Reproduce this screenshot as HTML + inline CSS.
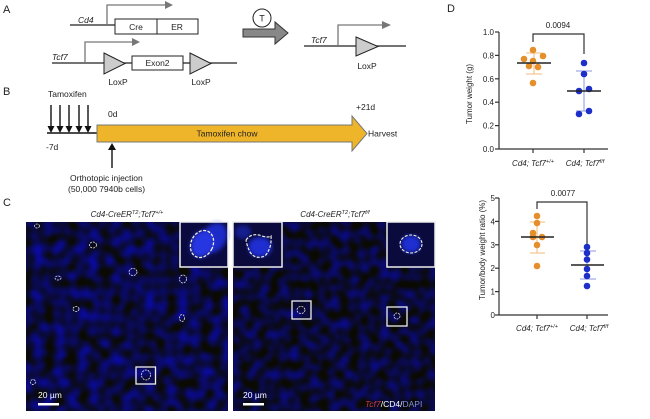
<!DOCTYPE html>
<html><head><meta charset="utf-8"><style>
html,body{margin:0;padding:0;background:#fff;}
svg{display:block;}
text{font-family:"Liberation Sans",Arial,sans-serif;fill:#222;}
.it{font-style:italic;}
</style></head><body>
<svg width="650" height="419" viewBox="0 0 650 419" xmlns="http://www.w3.org/2000/svg">
<defs>
<filter id="nL" filterUnits="userSpaceOnUse" x="26" y="222" width="202" height="189" color-interpolation-filters="sRGB">
<feTurbulence type="fractalNoise" baseFrequency="0.09" numOctaves="1" seed="3"/>
<feColorMatrix type="matrix" values="0 0 0 0 0.04  0 0 0 0 0.04  1.3 0 0 0 -0.38  0 0 0 0 1"/>
<feGaussianBlur stdDeviation="0.8"/>
</filter>
<filter id="nR" filterUnits="userSpaceOnUse" x="233" y="222" width="202" height="189" color-interpolation-filters="sRGB">
<feTurbulence type="fractalNoise" baseFrequency="0.1" numOctaves="1" seed="8"/>
<feColorMatrix type="matrix" values="0 0 0 0 0.04  0 0 0 0 0.04  1.1 0 0 0 -0.34  0 0 0 0 1"/>
<feGaussianBlur stdDeviation="0.8"/>
</filter>
<filter id="bl" color-interpolation-filters="sRGB"><feGaussianBlur stdDeviation="2"/></filter>
</defs>

<!-- Panel A -->
<text x="3" y="13" font-size="11">A</text>
<text x="78" y="23" font-size="8.5" class="it">Cd4</text>
<line x1="70" y1="25" x2="115" y2="25" stroke="#222" stroke-width="1.3"/>
<polyline points="107,25 107,5 166,5" fill="none" stroke="#777" stroke-width="1.3"/>
<polygon points="165,1 173,5 165,9" fill="#777"/>
<rect x="115" y="19" width="42" height="15" fill="#fff" stroke="#222" stroke-width="1"/>
<rect x="157" y="19" width="41" height="15" fill="#fff" stroke="#222" stroke-width="1"/>
<text x="136" y="30" font-size="8.5" text-anchor="middle">Cre</text>
<text x="177" y="30" font-size="8.5" text-anchor="middle">ER</text>

<text x="52" y="60" font-size="8.5" class="it">Tcf7</text>
<line x1="52" y1="63" x2="237" y2="63" stroke="#222" stroke-width="1.3"/>
<polyline points="85,63 85,42 133,42" fill="none" stroke="#777" stroke-width="1.3"/>
<polygon points="132,38 140,42 132,46" fill="#777"/>
<polygon points="104,53 125,63.5 104,74" fill="#ccc" stroke="#222" stroke-width="1"/>
<rect x="132" y="56" width="51" height="14" fill="#fff" stroke="#222" stroke-width="1"/>
<text x="157.5" y="66" font-size="8.5" text-anchor="middle">Exon2</text>
<polygon points="190,53 211,63.5 190,74" fill="#ccc" stroke="#222" stroke-width="1"/>
<text x="118" y="85" font-size="8.5" text-anchor="middle">LoxP</text>
<text x="201" y="85" font-size="8.5" text-anchor="middle">LoxP</text>

<polygon points="243,29 275,29 275,22 288,33 275,44 275,37 243,37" fill="#888" stroke="#333" stroke-width="1"/>
<circle cx="262" cy="18" r="9" fill="#fff" stroke="#222" stroke-width="1"/>
<text x="262" y="21.5" font-size="9" text-anchor="middle">T</text>

<text x="311" y="43" font-size="8.5" class="it">Tcf7</text>
<line x1="304" y1="46" x2="406" y2="46" stroke="#222" stroke-width="1.3"/>
<polyline points="338,46 338,25 383,25" fill="none" stroke="#777" stroke-width="1.3"/>
<polygon points="382,21 391,25 382,29" fill="#777"/>
<polygon points="356,37 378,46.5 356,56" fill="#ccc" stroke="#222" stroke-width="1"/>
<text x="367" y="69" font-size="8.5" text-anchor="middle">LoxP</text>

<!-- Panel B -->
<text x="3" y="95" font-size="11">B</text>
<text x="48" y="97" font-size="8.5">Tamoxifen</text>
<g stroke="#111" stroke-width="1.4">
<line x1="51" y1="105" x2="51" y2="127"/><line x1="60" y1="105" x2="60" y2="127"/>
<line x1="69" y1="105" x2="69" y2="127"/><line x1="79" y1="105" x2="79" y2="127"/>
<line x1="88" y1="105" x2="88" y2="127"/>
<line x1="47" y1="133" x2="98" y2="133" stroke-width="1.6"/>
</g>
<g fill="#111">
<polygon points="47.5,126 54.5,126 51,133"/><polygon points="56.5,126 63.5,126 60,133"/>
<polygon points="65.5,126 72.5,126 69,133"/><polygon points="75.5,126 82.5,126 79,133"/>
<polygon points="84.5,126 91.5,126 88,133"/>
</g>
<polygon points="97,125 352,125 352,116 367,133.5 352,151 352,142 97,142" fill="#eeb42a" stroke="#777" stroke-width="1"/>
<text x="227" y="136.5" font-size="8.5" text-anchor="middle">Tamoxifen chow</text>
<text x="108" y="117" font-size="8.5">0d</text>
<text x="46" y="150" font-size="8.5">-7d</text>
<text x="356" y="110" font-size="8.5">+21d</text>
<text x="368" y="136.5" font-size="8.5">Harvest</text>
<line x1="112" y1="149" x2="112" y2="168" stroke="#111" stroke-width="1.4"/>
<polygon points="108,150 116,150 112,143" fill="#111"/>
<text x="70" y="181" font-size="8.5">Orthotopic injection</text>
<text x="68" y="192" font-size="8.5">(50,000 7940b cells)</text>

<!-- Panel C -->
<text x="3" y="206" font-size="11">C</text>
<text x="127" y="217" font-size="8" text-anchor="middle" class="it">Cd4-CreER<tspan font-size="5.5" dy="-3">T2</tspan><tspan dy="3">;Tcf7</tspan><tspan font-size="5.5" dy="-3">+/+</tspan></text>
<text x="335" y="217" font-size="8" text-anchor="middle" class="it">Cd4-CreER<tspan font-size="5.5" dy="-3">T2</tspan><tspan dy="3">;Tcf7</tspan><tspan font-size="5.5" dy="-3">f/f</tspan></text>

<rect x="26" y="222" width="202" height="189" fill="#0a0a3a"/>
<rect x="26" y="222" width="202" height="189" filter="url(#nL)"/>
<rect x="233" y="222" width="202" height="189" fill="#0a0a3a"/>
<rect x="233" y="222" width="202" height="189" filter="url(#nR)"/>

<!-- cell outlines -->
<g fill="none" stroke="#e8e8d8" stroke-width="0.8" stroke-dasharray="2 1">
<ellipse cx="93" cy="245" rx="3.5" ry="3"/>
<ellipse cx="133" cy="272" rx="4" ry="3.5"/>
<ellipse cx="183" cy="279" rx="3.5" ry="4"/>
<ellipse cx="182" cy="318" rx="2.5" ry="3.5"/>
<ellipse cx="76" cy="309" rx="3" ry="2.5"/>
<ellipse cx="58" cy="278" rx="3" ry="2"/>
<ellipse cx="33" cy="382" rx="2.5" ry="2.5"/>
<ellipse cx="37" cy="226" rx="2.5" ry="2"/>
<ellipse cx="146" cy="375" rx="4.5" ry="5"/>
<ellipse cx="301" cy="310" rx="4" ry="3.5"/>
<ellipse cx="397" cy="316" rx="3" ry="3"/>
</g>
<g fill="none" stroke="#eee" stroke-width="1.3">
<rect x="136" y="367" width="19.5" height="17"/>
<rect x="292" y="301" width="19" height="18"/>
<rect x="387" y="307" width="20" height="19"/>
</g>
<!-- insets -->
<rect x="180" y="222" width="48" height="45" fill="#0a0a40"/>
<ellipse cx="214" cy="238" rx="12" ry="16" fill="#1c2ac8" filter="url(#bl)" transform="rotate(30 214 238)"/>
<ellipse cx="202" cy="244" rx="11" ry="14" fill="#2636e0" filter="url(#bl)" transform="rotate(25 202 244)"/>
<ellipse cx="202" cy="244" rx="11" ry="14" fill="none" stroke="#f0f0e0" stroke-width="1.3" stroke-dasharray="3 1.5" transform="rotate(25 202 244)"/>
<rect x="180" y="222" width="48" height="45" fill="none" stroke="#eee" stroke-width="1.5"/>

<rect x="233" y="222" width="49" height="45" fill="#0a0a3c"/>
<ellipse cx="260" cy="247" rx="12" ry="10" fill="#1e2ed0" filter="url(#bl)"/>
<ellipse cx="243" cy="232" rx="8" ry="7" fill="#161f90" filter="url(#bl)"/>
<path d="M246,240 Q252,232 262,236 Q268,238 271,236 Q272,248 265,256 Q255,260 250,252 Q247,246 246,240" fill="none" stroke="#f0f0e0" stroke-width="1.2" stroke-dasharray="3 1.5"/>
<rect x="233" y="222" width="49" height="45" fill="none" stroke="#eee" stroke-width="1.5"/>

<rect x="387" y="222" width="48" height="45" fill="#0a0a3c"/>
<ellipse cx="411" cy="244" rx="10" ry="9" fill="#1e2ed0" filter="url(#bl)"/>
<ellipse cx="411" cy="244" rx="11" ry="9" fill="none" stroke="#f0f0e0" stroke-width="1.1" stroke-dasharray="3 1.5"/>
<rect x="387" y="222" width="48" height="45" fill="none" stroke="#eee" stroke-width="1.5"/>

<text x="38" y="398" font-size="8.5" style="fill:#fff">20 µm</text>
<rect x="38" y="403" width="21" height="2.5" fill="#fff"/>
<text x="243" y="398" font-size="8.5" style="fill:#fff">20 µm</text>
<rect x="243" y="403" width="21" height="2.5" fill="#fff"/>
<text x="365" y="407" font-size="8.5"><tspan class="it" style="fill:#c83a3a">Tcf7</tspan><tspan style="fill:#fff">/CD4/</tspan><tspan style="fill:#7f8fe0">DAPI</tspan></text>

<!-- Panel D -->
<text x="447" y="12" font-size="11">D</text>
<g stroke="#333" stroke-width="1.2" fill="none">
<line x1="499" y1="32" x2="499" y2="149"/>
<line x1="499" y1="149" x2="608" y2="149"/>
<line x1="495" y1="32" x2="499" y2="32"/><line x1="495" y1="55.4" x2="499" y2="55.4"/>
<line x1="495" y1="78.8" x2="499" y2="78.8"/><line x1="495" y1="102.2" x2="499" y2="102.2"/>
<line x1="495" y1="125.6" x2="499" y2="125.6"/><line x1="495" y1="149" x2="499" y2="149"/>
<line x1="533" y1="149" x2="533" y2="153"/><line x1="584" y1="149" x2="584" y2="153"/>
<polyline points="533,42 533,34 584,34 584,54"/>
</g>
<g font-size="8" text-anchor="end">
<text x="494" y="35">1.0</text><text x="494" y="58.4">0.8</text><text x="494" y="81.8">0.6</text>
<text x="494" y="105.2">0.4</text><text x="494" y="128.6">0.2</text><text x="494" y="152">0.0</text>
</g>
<text x="558" y="28" font-size="8" text-anchor="middle">0.0094</text>
<text transform="translate(472,94) rotate(-90)" font-size="8" text-anchor="middle">Tumor weight (g)</text>
<text x="533" y="166" font-size="8" text-anchor="middle" class="it">Cd4; Tcf7<tspan font-size="5.5" dy="-3">+/+</tspan></text>
<text x="585" y="166" font-size="8" text-anchor="middle" class="it">Cd4; Tcf7<tspan font-size="5.5" dy="-3">f/f</tspan></text>
<g stroke="#f2c48e" stroke-width="1.2">
<line x1="534" y1="53" x2="534" y2="74"/><line x1="526" y1="53" x2="542" y2="53"/><line x1="526" y1="74" x2="542" y2="74"/>
</g>
<g stroke="#a0a6e6" stroke-width="1.2">
<line x1="584" y1="71" x2="584" y2="111"/><line x1="576" y1="71" x2="592" y2="71"/><line x1="576" y1="111" x2="592" y2="111"/>
</g>
<g fill="#e58e2c">
<circle cx="533" cy="50" r="3.3"/><circle cx="543" cy="56" r="3.3"/><circle cx="524" cy="59" r="3.3"/>
<circle cx="533" cy="61" r="3.3"/><circle cx="529" cy="66" r="3.3"/><circle cx="538" cy="67" r="3.3"/>
<circle cx="533" cy="83" r="3.3"/>
</g>
<g fill="#1e2ec8">
<circle cx="584" cy="63" r="3.3"/><circle cx="584" cy="74" r="3.3"/><circle cx="579" cy="91" r="3.3"/>
<circle cx="589" cy="89" r="3.3"/><circle cx="579" cy="114" r="3.3"/><circle cx="589" cy="111" r="3.3"/>
</g>
<g stroke="#222" stroke-width="1.5">
<line x1="517" y1="63" x2="551" y2="63"/><line x1="567" y1="91" x2="601" y2="91"/>
</g>

<!-- Bottom D -->
<g stroke="#333" stroke-width="1.2" fill="none">
<line x1="499" y1="198" x2="499" y2="315"/>
<line x1="499" y1="315" x2="608" y2="315"/>
<line x1="495" y1="198" x2="499" y2="198"/><line x1="495" y1="221.4" x2="499" y2="221.4"/>
<line x1="495" y1="244.8" x2="499" y2="244.8"/><line x1="495" y1="268.2" x2="499" y2="268.2"/>
<line x1="495" y1="291.6" x2="499" y2="291.6"/><line x1="495" y1="315" x2="499" y2="315"/>
<line x1="537" y1="315" x2="537" y2="319"/><line x1="587" y1="315" x2="587" y2="319"/>
<polyline points="537,209 537,202 587,202 587,245"/>
</g>
<g font-size="8" text-anchor="end">
<text x="495" y="201">5</text><text x="495" y="224.4">4</text><text x="495" y="247.8">3</text>
<text x="495" y="271.2">2</text><text x="495" y="294.6">1</text><text x="495" y="318">0</text>
</g>
<text x="563" y="196" font-size="8" text-anchor="middle">0.0077</text>
<text transform="translate(485,250) rotate(-90)" font-size="8" text-anchor="middle">Tumor/body weight ratio (%)</text>
<text x="537" y="331" font-size="8" text-anchor="middle" class="it">Cd4; Tcf7<tspan font-size="5.5" dy="-3">+/+</tspan></text>
<text x="589" y="331" font-size="8" text-anchor="middle" class="it">Cd4; Tcf7<tspan font-size="5.5" dy="-3">f/f</tspan></text>
<g stroke="#f2c48e" stroke-width="1.2">
<line x1="537" y1="222" x2="537" y2="253"/><line x1="530" y1="222" x2="545" y2="222"/><line x1="530" y1="253" x2="545" y2="253"/>
</g>
<g stroke="#a0a6e6" stroke-width="1.2">
<line x1="587" y1="251" x2="587" y2="279"/><line x1="580" y1="251" x2="596" y2="251"/><line x1="580" y1="279" x2="596" y2="279"/>
</g>
<g fill="#e58e2c">
<circle cx="537" cy="216" r="3.3"/><circle cx="537" cy="223" r="3.3"/><circle cx="533" cy="233" r="3.3"/>
<circle cx="542" cy="237" r="3.3"/><circle cx="533" cy="237" r="3.3"/><circle cx="537" cy="245" r="3.3"/>
<circle cx="537" cy="266" r="3.3"/>
</g>
<g fill="#1e2ec8">
<circle cx="587" cy="247" r="3.3"/><circle cx="587" cy="253" r="3.3"/><circle cx="587" cy="259.5" r="3.3"/>
<circle cx="587" cy="269" r="3.3"/><circle cx="587" cy="276" r="3.3"/><circle cx="587" cy="286" r="3.3"/>
</g>
<g stroke="#222" stroke-width="1.5">
<line x1="521" y1="237" x2="554" y2="237"/><line x1="571" y1="265" x2="604" y2="265"/>
</g>
</svg>
</body></html>
